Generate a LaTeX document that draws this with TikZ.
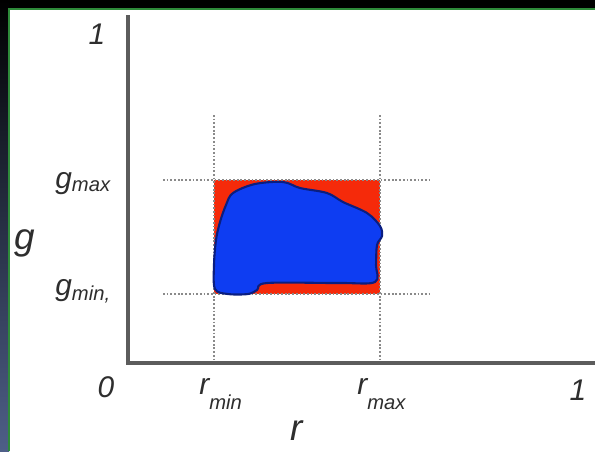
\documentclass[tikz,border=0pt]{standalone}
\usepackage{fontspec}
\setmainfont{Liberation Sans}
\usetikzlibrary{positioning, calc}
\definecolor{sred}{HTML}{F52A0A}
\definecolor{sblue}{HTML}{0E3DF2}
\definecolor{sdeep}{HTML}{0A1E80}
\definecolor{saxis}{HTML}{5C5C5C}
\definecolor{sguide}{HTML}{8A8A8A}
\definecolor{stext}{HTML}{2E2E2E}
\definecolor{sslate}{HTML}{4E5F88}
\definecolor{sgreen}{HTML}{2E8B3A}
\newcommand\sublbl[3]{\textit{#1}\raisebox{#3}{\fontsize{11.5}{12}\selectfont\textit{#2}}}
\tikzset{
  lab/.style={font=\fontsize{17}{20}\selectfont\itshape, text=stext, inner sep=0pt},
  biglab/.style={font=\fontsize{21}{24}\selectfont\itshape, text=stext, inner sep=0pt},
  axisline/.style={draw=saxis, line width=2.2pt},
  guide/.style={draw=sguide, line width=1.4pt, dash pattern=on 1pt off 1.1pt},
  region/.style={fill=sblue, draw=sdeep, line width=1.2pt}
}
\begin{document}
\begin{tikzpicture}[x=0.02cm, y=-0.02cm]
  \useasboundingbox (0,0) rectangle (595,451);
  % frame and panel
  \fill[black] (0,0) rectangle (595,451);
  \shade[top color=black, bottom color=sslate] (0,0) rectangle (9,451);
  \fill[white] (9,9) rectangle (595,451);
  \draw[sgreen, line width=0.6pt] (9,451) -- (9,9) -- (595,9);

  % axes
  \coordinate (O) at (128,363);
  \coordinate (ytop) at (128,15);
  \coordinate (xend) at (595,363);

  % red box
  \coordinate (boxsw) at (214,294);
  \coordinate (boxne) at (380,180);
  \fill[sred] (boxsw) rectangle (boxne);

  % guides
  \coordinate (rmin top) at (214,115);
  \coordinate (rmax top) at (380,115);
  \coordinate (gmax left) at (163,180);
  \coordinate (gmin left) at (163,294);
  \coordinate (gmax right) at (430,180);
  \coordinate (gmin right) at (430,294);
  \draw[guide] (rmin top) -- (rmin top |- O);
  \draw[guide] (rmax top) -- (rmax top |- O);
  \draw[guide] (gmax left) -- (gmax right);
  \draw[guide] (gmin left) -- (gmin right);

  % blue region
  \draw[region] plot[smooth cycle, tension=0.55] coordinates {
    (233,193) (255,184) (283,182) (300,188) (327,193) (343,202) (367,213)
    (380,226) (382,236) (377,245) (376,265) (375,282) (340,283) (267,283)
    (257,290) (248,294) (228,294) (215,289) (214,265) (216,240) (220,222) (226,205)};

  \draw[axisline] (ytop) |- (xend);

  % labels
  \node[lab, anchor=base] (one y) at (97,44) {1};
  \node[lab, anchor=base] (zero) at (106,397) {0};
  \node[lab, anchor=base] (one x) at (578,400) {1};
  \node[lab, anchor=base west] (gmax) at (55,188) {\sublbl{g}{max}{-2pt}};
  \node[lab, anchor=base west] (gmin) at (55,295) {\sublbl{g}{min,}{-3pt}};
  \node[lab, anchor=base west] (rmin) at (199,394) {\sublbl{r}{min}{-9pt}};
  \node[lab, anchor=base west] (rmax) at (357,394) {\sublbl{r}{max}{-9pt}};
  \node[biglab, anchor=base] (g) at (25,249) {g};
  \node[biglab, anchor=base] (r) at (297,440) {r};
\end{tikzpicture}
\end{document}
